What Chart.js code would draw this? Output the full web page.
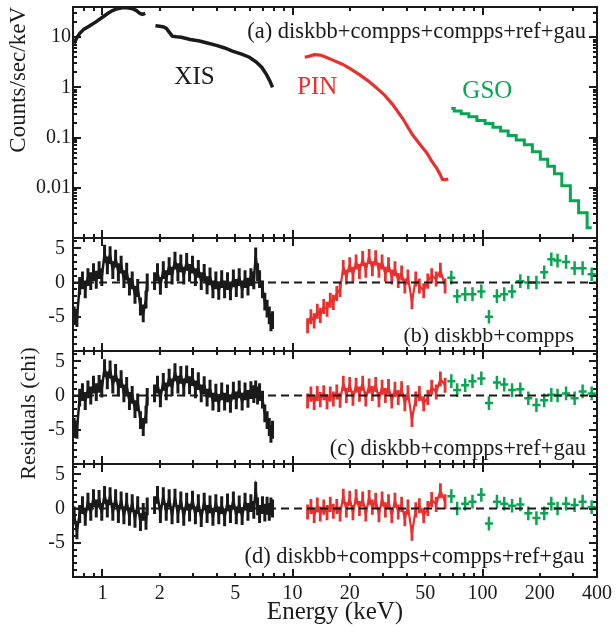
<!DOCTYPE html>
<html>
<head>
<meta charset="utf-8">
<script src="https://cdn.jsdelivr.net/npm/chart.js@4.4.1/dist/chart.umd.min.js"></script>
<style>
  html, body { margin: 0; padding: 0; background: #fff; }
  #wrap { position: relative; width: 616px; height: 633px; }
</style>
</head>
<body>
<div id="wrap"><canvas id="spec" width="616" height="633"></canvas></div>
<script>
// energy grids (keV)
const xisLowE = [0.710, 0.734, 0.759, 0.785, 0.812, 0.839, 0.868, 0.897, 0.928, 0.960, 0.992, 1.026, 1.061, 1.097,
  1.134, 1.173, 1.213, 1.254, 1.297, 1.341, 1.387, 1.434, 1.483, 1.533, 1.585, 1.639, 1.695, 1.720];
const xisHighE = [1.880, 1.948, 2.018, 2.090, 2.166, 2.244, 2.324, 2.408, 2.495, 2.585, 2.678, 2.774, 2.874, 2.977,
  3.084, 3.195, 3.310, 3.430, 3.553, 3.681, 3.814, 3.951, 4.093, 4.241, 4.393, 4.551, 4.715, 4.885, 5.061, 5.243,
  5.432, 5.627, 5.830, 6.040, 6.257, 6.400, 6.550, 6.710, 6.950, 7.150, 7.350, 7.550, 7.700, 7.850];
const pinE = [12.0, 12.5, 13.0, 13.5, 14.0, 14.6, 15.2, 15.8, 16.4, 17.1, 17.8, 18.5, 19.2, 20.0, 20.8, 21.6, 22.5,
  23.4, 24.3, 25.3, 26.3, 27.4, 28.5, 29.6, 30.8, 32.0, 33.3, 34.6, 36.0, 37.5, 39.0, 40.5, 42.5, 44.5, 46.5, 49.0,
  51.5, 54.0, 57.0, 60.0, 63.5];
const gsoE = [68.5, 73.5, 81, 88.5, 98.5, 108, 119, 130, 143, 158, 174, 192, 211, 230, 248, 275, 305, 336, 375];

// (a) count spectra
const xisSpecLowE = [0.71, 0.73, 0.76, 0.80, 0.85, 0.92, 1.0, 1.07, 1.13, 1.2, 1.27, 1.35, 1.44, 1.51, 1.57, 1.62, 1.68];
const xisSpecLow = [7.5, 9.5, 12, 14.5, 16.5, 20, 25, 30, 34, 37, 38.5, 38.5, 37, 34, 30, 28.5, 30];
const xisSpecHighE = [1.9, 2.0, 2.1, 2.17, 2.25, 2.33, 2.45, 2.6, 2.9, 3.24, 3.6, 3.98, 4.4, 4.83, 5.4, 5.93, 6.45,
  6.9, 7.3, 7.6, 7.85];
const xisSpecHigh = [17, 16.5, 16, 15, 12.5, 10.5, 10.2, 10, 9, 8.4, 7.6, 6.9, 6.1, 5.3, 4.6, 4.0, 3.2, 2.5, 1.8,
  1.35, 1.0];
const pinSpecE = [11.6, 12.3, 13.0, 14.0, 15.0, 16.3, 18.3, 20.0, 22.5, 25.0, 27.5, 30.5, 33.6, 38.0, 42.8, 47.0,
  50.8, 54.0, 57.2, 59.5, 61.6, 64.0, 66.0];
const pinSpec = [4.0, 4.2, 4.5, 4.4, 4.0, 3.5, 2.9, 2.4, 1.8, 1.35, 1.0, 0.7, 0.46, 0.24, 0.114, 0.072, 0.05, 0.034,
  0.025, 0.019, 0.0145, 0.0145, 0.015];
const gsoSpec = [0.38, 0.34, 0.30, 0.26, 0.22, 0.19, 0.16, 0.135, 0.11, 0.09, 0.072, 0.052, 0.037, 0.027, 0.019,
  0.011, 0.0055, 0.0032, 0.0016];

// (b) diskbb+compps residuals
const bXisLow = [-4.8, -5.2, -0.5, 0.3, -1.0, 0.8, 0.2, 1.5, 0.4, 1.8, 0.8, 4.2, 2.5, 4.0, 1.8, 3.5, 1.5, 2.6, 0.5,
  1.6, -0.6, 0.3, -1.8, -0.8, -3.5, -4.5, -2.5, 0.0];
const bXisHigh = [0.2, 1.5, -0.5, 1.8, 0.5, 2.4, 1.0, 3.2, 1.5, 2.8, 1.0, 3.0, 1.4, 2.6, 0.8, 2.0, 0.2, 1.4, -0.4,
  0.9, -1.0, 0.3, -1.2, 0.5, -1.0, 0.2, -1.3, 0.6, -0.8, 0.8, -1.0, 0.5, -0.6, 0.8, 0.3, 3.8, 1.5, 0.5, -1.0, -2.8,
  -3.8, -4.8, -5.8, -5.5];
const bPin = [-6.3, -5.0, -5.6, -4.2, -4.8, -3.5, -3.9, -2.6, -2.9, -1.6, -1.0, 2.2, 0.8, 2.6, 1.2, 3.0, 1.6, 3.5,
  1.8, 3.8, 2.0, 3.6, 1.8, 3.0, 1.2, 2.6, 0.8, 2.0, 0.3, 1.4, -0.5, 0.8, -2.8, 0.5, -0.5, -1.2, 0.2, 1.0, 0.5, 1.8,
  -0.5];
const bGso = [0.7, -2.0, -1.7, -1.7, -1.3, -5.0, -2.0, -1.7, -1.3, 0.2, 0.0, 0.0, 1.5, 3.4, 3.2, 3.0, 2.1, 2.1, 1.2];

// (c) diskbb+compps+ref+gau residuals
const cXisLow = [-4.6, -5.0, -0.3, 0.5, -0.8, 0.9, 0.0, 1.6, 0.5, 1.7, 1.0, 4.0, 2.2, 3.8, 1.6, 3.3, 1.2, 2.4, 0.3,
  1.4, -0.8, 0.1, -2.0, -1.0, -3.6, -4.6, -2.8, -0.2];
const cXisHigh = [0.3, 1.6, -0.4, 2.0, 0.6, 2.6, 1.2, 3.4, 1.6, 3.0, 1.2, 3.1, 1.5, 2.7, 0.9, 2.1, 0.3, 1.5, -0.3,
  1.0, -0.9, 0.4, -1.1, 0.6, -0.9, 0.3, -1.2, 0.7, -0.7, 0.9, -0.9, 0.6, -0.5, 0.8, 0.2, 0.9, 0.0, 0.5, -0.6, -2.6,
  -3.6, -4.6, -5.6, -5.0];
const cPin = [-0.8, 0.2, -1.0, 0.3, -0.6, 0.4, -0.9, 0.2, -0.5, 0.5, -0.7, 1.8, 0.0, 1.6, -0.4, 1.5, 0.2, 1.8, -0.5,
  1.4, 0.3, 1.6, -0.6, 1.2, 0.0, 1.3, -0.8, 0.9, -0.3, 1.0, -1.2, 0.4, -3.5, -0.5, 0.3, -1.2, -0.3, 1.2, 0.5, 2.4,
  1.5];
const cGso = [2.1, 0.8, 1.5, 2.1, 2.5, -1.1, 1.9, 1.6, 0.8, 0.9, -0.4, -1.4, -0.7, 0.1, 0.0, 0.3, -0.4, 0.6, 0.3];

// (d) diskbb+compps+compps+ref+gau residuals
const dXisLow = [-1.0, -3.2, -0.8, 0.5, -1.2, 1.0, -0.5, 1.5, 0.0, 1.4, -0.5, 2.0, 0.0, 1.8, -0.5, 1.5, -0.8, 1.2,
  -1.0, 1.0, -1.2, 0.8, -1.5, 0.5, -2.0, -0.5, -1.8, 0.3];
const dXisHigh = [0.5, 2.0, -0.8, 1.8, -0.5, 1.5, -1.0, 1.6, -0.8, 1.2, -1.2, 1.0, -0.6, 1.3, -1.0, 0.8, -1.4, 1.0,
  -0.8, 0.6, -1.2, 0.8, -1.0, 0.5, -1.3, 0.9, -0.8, 1.2, -1.0, 0.6, -1.1, 1.0, -0.5, 0.8, -0.2, 2.6, 0.3, -0.8, 0.5,
  -0.6, 0.4, -0.5, 0.3, 0.0];
const dPin = [-0.5, 0.3, -1.0, 0.5, -0.8, 0.2, -0.6, 0.6, -0.4, 0.3, -0.8, 1.8, -0.2, 1.5, -0.6, 1.7, 0.0, 1.4, -0.8,
  1.6, 0.2, 1.2, -0.9, 1.4, -0.2, 1.0, -1.0, 1.2, -0.5, 0.6, -1.5, 0.2, -3.6, -0.2, 0.4, -1.0, 0.0, 1.3, 0.6, 2.6,
  1.0];
const dGso = [1.8, 0.0, 0.7, 1.0, 2.0, -2.2, 1.0, 0.7, 0.4, 0.6, -0.7, -1.4, -0.7, 0.7, 0.0, 0.7, 0.5, 1.0, 0.2];

// 1-sigma sizes of the residual points
const xisErr = 1.3;
const pinErr = 1.1;
const gsoErr = 1.0;
const gsoBinRatio = 1.05;

// axis ticks
const xMajorTicks = [1, 10, 100];
const xMinorTicks = [0.8, 0.9, 2, 3, 4, 5, 6, 7, 8, 9, 20, 30, 40, 50, 60, 70, 80, 90, 200, 300, 400];
const xTickLabels = [1, 2, 5, 10, 20, 50, 100, 200, 400];
const countDecades = [0.001, 0.01, 0.1, 1, 10];
const countTickLabels = [10, 1, 0.1, 0.01];
const residMajorTicks = [-10, -5, 0, 5];
const residTickLabels = [5, 0, -5];

const ink = '#1a1a1a';
const red = '#e8302e';
const green = '#08a650';
const serif = 'Liberation Serif';

const pts = (es, vs) => es.map((e, i) => ({ x: e, y: vs[i] }));

function countTicks() {
  const list = [];
  countDecades.forEach(d => {
    list.push({ value: d, big: true });
    if (d < 10) for (let k = 2; k <= 9; k++) list.push({ value: +(d * k).toPrecision(3), big: false });
  });
  list.push({ value: 20, big: false }, { value: 30, big: false });
  return list;
}

function residTicks() {
  const list = [];
  for (let v = -10; v <= 6; v++) list.push({ value: v, big: residMajorTicks.includes(v) });
  return list;
}

const xTickList = xMinorTicks.concat(xMajorTicks).sort((a, b) => a - b)
  .map(v => ({ value: v, big: xMajorTicks.includes(v) }));

function yScale(weight, stackWeight, opts) {
  return Object.assign({
    position: 'left',
    stack: 'panels',
    stackWeight,
    weight,
    bounds: 'data',
    grid: { display: false, drawTicks: false, tickLength: 0 },
    border: { display: false },
    afterFit: s => { s.width = 73; s.paddingTop = 0; s.paddingBottom = 0; }
  }, opts);
}

function residAxis(weight) {
  return yScale(weight, 113, {
    type: 'linear', min: -10, max: 6.5,
    afterBuildTicks: s => { s.ticks = residTicks(); },
    ticks: {
      autoSkip: false, padding: 8, color: ink, font: { family: serif, size: 20 },
      callback: v => residTickLabels.includes(v) ? String(v) : ''
    }
  });
}

function zeroLine(axis) {
  return {
    data: [{ x: 0.7, y: 0 }, { x: 400, y: 0 }], yAxisID: axis, borderColor: ink, borderWidth: 2,
    borderDash: [8, 5], pointRadius: 0, order: 0
  };
}

function residSets(axis, xl, xh, pin, gso) {
  return [
    zeroLine(axis),
    { data: pts(xisLowE, xl), yAxisID: axis, borderColor: ink, borderWidth: 2.5, pointRadius: 0, errY: xisErr, errWidth: 3, order: 3 },
    { data: pts(xisHighE, xh), yAxisID: axis, borderColor: ink, borderWidth: 2.5, pointRadius: 0, errY: xisErr, errWidth: 3, order: 3 },
    { data: pts(pinE, pin), yAxisID: axis, borderColor: red, borderWidth: 2.2, pointRadius: 0, errY: pinErr, errWidth: 2.8, order: 2 },
    { data: pts(gsoE, gso), yAxisID: axis, borderColor: green, showLine: false, pointRadius: 0, errY: gsoErr,
      errX: gsoBinRatio, errWidth: 2.5, order: 1 }
  ];
}

// vertical (and horizontal) error bars, drawn right after their dataset
const errorBars = {
  id: 'errorBars',
  afterDatasetDraw(chart, args) {
    const ds = chart.data.datasets[args.index];
    if (!ds.errY) return;
    const xs = chart.scales.x, ys = chart.scales[ds.yAxisID], ctx = chart.ctx;
    ctx.save();
    ctx.strokeStyle = ds.borderColor;
    ctx.lineWidth = ds.errWidth || 1.8;
    ctx.beginPath();
    args.meta.data.forEach((pt, i) => {
      const d = ds.data[i];
      ctx.moveTo(pt.x, ys.getPixelForValue(d.y - ds.errY));
      ctx.lineTo(pt.x, ys.getPixelForValue(d.y + ds.errY));
      if (ds.errX) {
        ctx.moveTo(xs.getPixelForValue(d.x / ds.errX), pt.y);
        ctx.lineTo(xs.getPixelForValue(d.x * ds.errX), pt.y);
      }
    });
    ctx.stroke();
    ctx.restore();
  }
};

// boxed panels with inward ticks on all four sides
const panelTicks = { yA: countTicks(), yB: residTicks(), yC: residTicks(), yD: residTicks() };

const frameTicks = {
  id: 'frameTicks',
  afterDraw(chart) {
    const ctx = chart.ctx, xs = chart.scales.x;
    const left = Math.round(xs.left), right = Math.round(xs.right);
    ctx.save();
    ctx.fillStyle = ink;
    Object.keys(panelTicks).forEach(id => {
      const ys = chart.scales[id];
      const top = Math.round(ys.top), bottom = Math.round(ys.bottom);
      ctx.fillRect(left - 1, top - 1, right - left + 2, 2);
      ctx.fillRect(left - 1, bottom - 1, right - left + 2, 2);
      ctx.fillRect(left - 1, top - 1, 2, bottom - top + 2);
      ctx.fillRect(right - 1, top - 1, 2, bottom - top + 2);
      xTickList.forEach(t => {
        const px = Math.round(xs.getPixelForValue(t.value)), len = t.big ? 8 : 4;
        ctx.fillRect(px - 1, top, 2, len);
        ctx.fillRect(px - 1, bottom - len, 2, len);
      });
      panelTicks[id].forEach(t => {
        const py = Math.round(ys.getPixelForValue(t.value)), len = t.big ? 8 : 4;
        ctx.fillRect(left, py - 1, len, 2);
        ctx.fillRect(right - len, py - 1, len, 2);
      });
    });
    ctx.restore();
  }
};

// instrument names and model names inside the panels
const notes = [
  { text: '(a) diskbb+compps+compps+ref+gau', axis: 'yA', x: 350, y: 12.6, align: 'right', color: ink, size: 22.5 },
  { text: 'XIS', axis: 'yA', x: 3.05, y: 1.6, align: 'center', color: ink, size: 25 },
  { text: 'PIN', axis: 'yA', x: 13.5, y: 1.0, align: 'center', color: red, size: 25 },
  { text: 'GSO', axis: 'yA', x: 106, y: 0.83, align: 'center', color: green, size: 25 },
  { text: '(b) diskbb+compps', axis: 'yB', x: 303, y: -7.8, align: 'right', color: ink, size: 22 },
  { text: '(c) diskbb+compps+ref+gau', axis: 'yC', x: 350, y: -7.8, align: 'right', color: ink, size: 22.5 },
  { text: '(d) diskbb+compps+compps+ref+gau', axis: 'yD', x: 344, y: -7.1, align: 'right', color: ink, size: 22.5 }
];

const panelNotes = {
  id: 'panelNotes',
  afterDraw(chart) {
    const ctx = chart.ctx, xs = chart.scales.x;
    ctx.save();
    ctx.textBaseline = 'middle';
    notes.forEach(n => {
      ctx.font = n.size + 'px "' + serif + '"';
      ctx.fillStyle = n.color;
      ctx.textAlign = n.align;
      ctx.fillText(n.text, xs.getPixelForValue(n.x), chart.scales[n.axis].getPixelForValue(n.y));
    });
    // shared title of the three residual panels
    const yb = chart.scales.yB, yd = chart.scales.yD;
    ctx.translate(29, (yb.top + yd.bottom) / 2 + 6);
    ctx.rotate(-Math.PI / 2);
    ctx.textAlign = 'center';
    ctx.fillStyle = ink;
    ctx.font = '22px "' + serif + '"';
    ctx.fillText('Residuals (chi)', 0, 0);
    ctx.restore();
  }
};

new Chart(document.getElementById('spec'), {
  type: 'line',
  data: {
    datasets: [
      { data: pts(xisSpecLowE, xisSpecLow), yAxisID: 'yA', borderColor: ink, borderWidth: 3.5, pointRadius: 0, order: 3 },
      { data: pts(xisSpecHighE, xisSpecHigh), yAxisID: 'yA', borderColor: ink, borderWidth: 3.5, pointRadius: 0, order: 3 },
      { data: pts(pinSpecE, pinSpec), yAxisID: 'yA', borderColor: red, borderWidth: 3.2, pointRadius: 0, order: 2 },
      { data: pts(gsoE, gsoSpec), yAxisID: 'yA', borderColor: green, borderWidth: 3, pointRadius: 0, stepped: 'middle', order: 1 },
      ...residSets('yB', bXisLow, bXisHigh, bPin, bGso),
      ...residSets('yC', cXisLow, cXisHigh, cPin, cGso),
      ...residSets('yD', dXisLow, dXisHigh, dPin, dGso)
    ]
  },
  options: {
    responsive: false,
    animation: false,
    events: [],
    layout: { padding: { top: 7, right: 19, left: 0, bottom: 0 } },
    plugins: { legend: { display: false }, tooltip: { enabled: false } },
    scales: {
      x: {
        type: 'logarithmic', min: 0.7, max: 400, position: 'bottom', bounds: 'data',
        grid: { display: false, drawTicks: false, tickLength: 0 }, border: { display: false },
        afterBuildTicks: s => { s.ticks = xTickList.map(t => ({ value: t.value })); },
        ticks: {
          autoSkip: false, maxRotation: 0, padding: 5, color: ink, font: { family: serif, size: 20 },
          callback: v => xTickLabels.includes(v) ? String(v) : ''
        },
        title: { display: true, text: 'Energy (keV)', color: ink, font: { family: serif, size: 25 }, padding: { top: 0, bottom: 6 } },
        afterFit: s => { s.height = 56; s.paddingLeft = 0; s.paddingRight = 0; }
      },
      yA: yScale(4, 231, {
        type: 'logarithmic', min: 0.001, max: 40,
        afterBuildTicks: s => { s.ticks = countTicks(); },
        ticks: {
          autoSkip: false, padding: 2, color: ink, font: { family: serif, size: 20 },
          callback: v => countTickLabels.includes(v) ? String(v) : ''
        },
        title: { display: true, text: 'Counts/sec/keV', align: 'end', color: ink, font: { family: serif, size: 23 }, padding: { top: 5, bottom: 0 } }
      }),
      yB: residAxis(3),
      yC: residAxis(2),
      yD: residAxis(1)
    }
  },
  plugins: [errorBars, frameTicks, panelNotes]
});
</script>
</body>
</html>
